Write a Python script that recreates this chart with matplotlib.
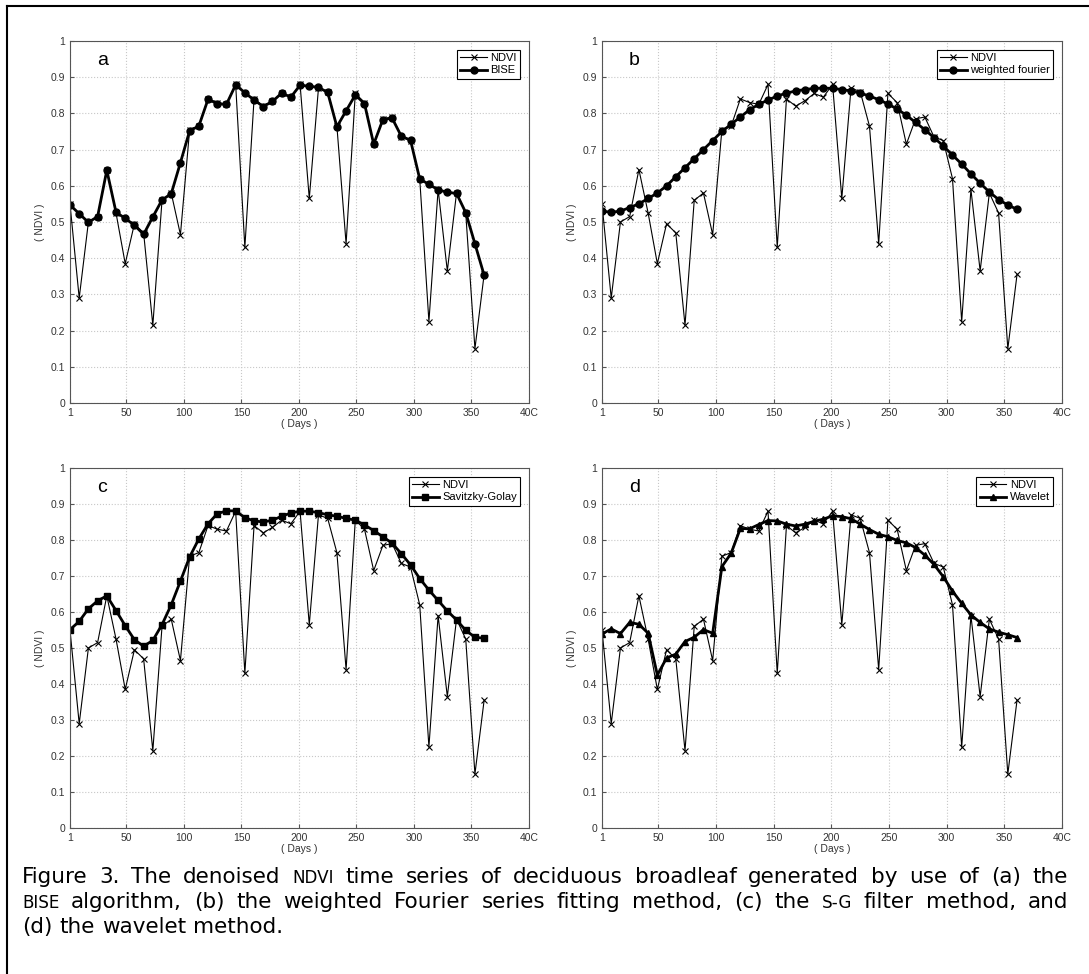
import matplotlib
matplotlib.use("Agg")
import matplotlib.pyplot as plt
from matplotlib.lines import Line2D

# 8-day composites, day of year
days = list(range(1, 362, 8))

ndvi = [0.55, 0.29, 0.50, 0.515, 0.645, 0.525, 0.385, 0.495, 0.47, 0.215,
        0.56, 0.58, 0.465, 0.755, 0.765, 0.84, 0.83, 0.825, 0.88, 0.43,
        0.84, 0.82, 0.835, 0.855, 0.845, 0.88, 0.565, 0.87, 0.86, 0.765,
        0.44, 0.855, 0.83, 0.715, 0.785, 0.79, 0.735, 0.725, 0.62, 0.225,
        0.59, 0.365, 0.58, 0.525, 0.15, 0.355]

bise = [0.547, 0.523, 0.499, 0.515, 0.643, 0.527, 0.51, 0.491, 0.466, 0.514,
        0.561, 0.578, 0.664, 0.752, 0.765, 0.839, 0.827, 0.825, 0.879, 0.857,
        0.837, 0.819, 0.833, 0.856, 0.845, 0.878, 0.875, 0.872, 0.858, 0.763,
        0.807, 0.851, 0.827, 0.715, 0.783, 0.787, 0.737, 0.726, 0.619, 0.604,
        0.589, 0.582, 0.579, 0.526, 0.44, 0.353]

fourier = [0.53, 0.527, 0.53, 0.54, 0.55, 0.565, 0.58, 0.60, 0.625, 0.65,
           0.675, 0.70, 0.725, 0.75, 0.77, 0.79, 0.81, 0.825, 0.837, 0.848,
           0.856, 0.862, 0.866, 0.869, 0.87, 0.869, 0.866, 0.862, 0.856, 0.848,
           0.838, 0.826, 0.812, 0.795, 0.775, 0.755, 0.733, 0.71, 0.685, 0.66,
           0.633, 0.607, 0.583, 0.562, 0.547, 0.535]

savgol = [0.551, 0.574, 0.609, 0.631, 0.645, 0.604, 0.562, 0.523, 0.505, 0.521,
          0.565, 0.62, 0.686, 0.753, 0.803, 0.845, 0.873, 0.881, 0.881, 0.862,
          0.853, 0.85, 0.855, 0.866, 0.875, 0.88, 0.88, 0.876, 0.87, 0.866,
          0.86, 0.855, 0.842, 0.826, 0.809, 0.791, 0.762, 0.731, 0.693, 0.661,
          0.632, 0.603, 0.578, 0.549, 0.53, 0.527]

wavelet = [0.539, 0.553, 0.54, 0.571, 0.566, 0.541, 0.425, 0.472, 0.483, 0.518,
           0.53, 0.551, 0.541, 0.726, 0.763, 0.832, 0.831, 0.843, 0.854, 0.853,
           0.844, 0.839, 0.844, 0.852, 0.858, 0.867, 0.865, 0.859, 0.844, 0.829,
           0.816, 0.809, 0.799, 0.792, 0.779, 0.758, 0.732, 0.698, 0.658, 0.624,
           0.592, 0.571, 0.553, 0.544, 0.537, 0.529]

panels = [
    ("a", bise, "BISE", "o"),
    ("b", fourier, "weighted fourier", "o"),
    ("c", savgol, "Savitzky-Golay", "s"),
    ("d", wavelet, "Wavelet", "^"),
]

xticks = [1, 50, 100, 150, 200, 250, 300, 350, 400]
xticklabels = ["1", "50", "100", "150", "200", "250", "300", "350", "40C"]
yticks = [0, 0.1, 0.2, 0.3, 0.4, 0.5, 0.6, 0.7, 0.8, 0.9, 1]
yticklabels = ["0", "0.1", "0.2", "0.3", "0.4", "0.5", "0.6", "0.7", "0.8", "0.9", "1"]

# caption words; words in smallcaps set are drawn in small capitals
caption = [
    "Figure 3. The denoised NDVI time series of deciduous broadleaf generated by use of (a) the",
    "BISE algorithm, (b) the weighted Fourier series fitting method, (c) the S-G filter method, and",
    "(d) the wavelet method.",
]
smallcaps = {"NDVI", "BISE", "S-G"}

plt.rcParams['font.family'] = ['Liberation Sans', 'DejaVu Sans']

W, H = 1089, 974
fig = plt.figure(figsize=(W / 100, H / 100), dpi=100)

# axes boxes in pixels: left, top, right, bottom
boxes = [(70, 41, 529, 403), (602, 41, 1062, 403),
         (70, 468, 529, 828), (602, 468, 1062, 828)]

for (letter, smooth, name, mk), (l, t, r, b) in zip(panels, boxes):
    ax = fig.add_axes([l / W, 1 - b / H, (r - l) / W, (b - t) / H])
    ax.plot(days, ndvi, color='black', lw=0.8, marker='x', ms=4, mew=0.8, label='NDVI')
    ax.plot(days, smooth, color='black', lw=2.0, marker=mk, ms=5, label=name)
    ax.set_xlim(1, 400)
    ax.set_ylim(0, 1)
    ax.set_xticks(xticks)
    ax.set_xticklabels(xticklabels)
    ax.set_yticks(yticks)
    ax.set_yticklabels(yticklabels)
    ax.tick_params(labelsize=7.5, direction='in', length=3, color='#555555',
                   labelcolor='#333333')
    ax.grid(True, color='#c8c8c8', linestyle=':', lw=0.8)
    for s in ax.spines.values():
        s.set_color('#555555')
        s.set_linewidth(0.8)
    ax.set_xlabel('( Days )', fontsize=7.5, labelpad=1, color='#333333')
    ax.set_ylabel('( NDVI )', fontsize=7.5, labelpad=4, color='#333333')
    ax.text(29, 0.945, letter, fontsize=14, va='center', ha='center')
    leg = ax.legend(loc='upper right', fontsize=8, fancybox=False, framealpha=1,
                    edgecolor='black', handlelength=2.4, borderpad=0.3,
                    labelspacing=0.2, handletextpad=0.3, borderaxespad=0.8)
    leg.get_frame().set_linewidth(0.8)

# caption, justified word by word
renderer = fig.canvas.get_renderer()
cap_font = ['DejaVu Sans']
cap_size = 15.5
x0, x1 = 22, 1068
baselines = [883, 908, 933]
for i, line in enumerate(caption):
    words = line.split(" ")
    items = []
    for w in words:
        size = cap_size * 0.78 if w.rstrip(",.") in smallcaps else cap_size
        t = fig.text(0, 1 - baselines[i] / H, w, fontsize=size, family=cap_font,
                     va='baseline', ha='left')
        items.append((t, t.get_window_extent(renderer).width))
    total = sum(wd for _, wd in items)
    if i < len(caption) - 1:
        gap = (x1 - x0 - total) / (len(items) - 1)
    else:
        gap = 7
    x = x0
    for t, wd in items:
        t.set_x(x / W)
        x += wd + gap

# the page frame is cut by the image edge: only its top and left sides show
fig.lines.append(Line2D([7 / W, 1], [1 - 6 / H, 1 - 6 / H], transform=fig.transFigure,
                        color='black', lw=1.5))
fig.lines.append(Line2D([7 / W, 7 / W], [1 - 6 / H, 0], transform=fig.transFigure,
                        color='black', lw=1.5))

fig.savefig('out.png', dpi=100)
